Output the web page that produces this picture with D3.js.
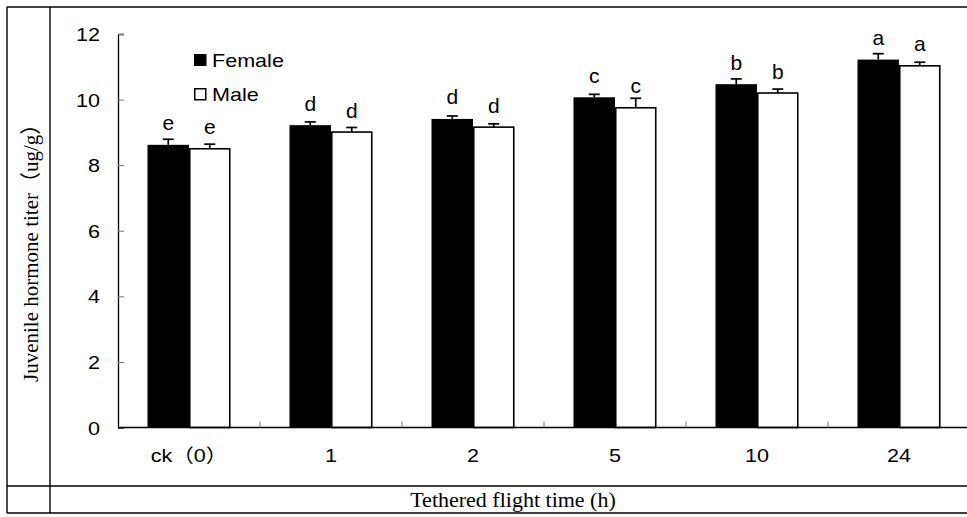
<!DOCTYPE html>
<html>
<head>
<meta charset="utf-8">
<script src="https://cdn.jsdelivr.net/npm/d3@7"></script>
<style>
  html, body { margin: 0; padding: 0; background: #fff; }
  svg { display: block; }
  .sans { font-family: "Liberation Sans", Arial, "Noto Sans CJK SC", sans-serif; fill: #000; }
  .serif { font-family: "Liberation Serif", "Times New Roman", "Noto Sans CJK SC", serif; fill: #000; }
</style>
</head>
<body>
<script>
// Tethered flight time groups
const categories = ["ck（0）", "1", "2", "5", "10", "24"];
const seriesNames = ["Female", "Male"];

// Juvenile hormone titer (ug/g), mean and error
const femaleValues = [8.62, 9.22, 9.41, 10.07, 10.47, 11.22];
const femaleErrors = [0.17, 0.10, 0.09, 0.09, 0.16, 0.18];
const maleValues   = [8.50, 9.01, 9.16, 9.75, 10.20, 11.03];
const maleErrors   = [0.14, 0.14, 0.10, 0.29, 0.12, 0.11];

// Significance letters
const femaleLetters = ["e", "d", "d", "c", "b", "a"];
const maleLetters   = ["e", "d", "d", "c", "b", "a"];

const yTicks = [0, 2, 4, 6, 8, 10, 12];

const W = 967, H = 517;
const svg = d3.select("body").append("svg").attr("width", W).attr("height", H);

// Table frame around the figure
const frame = svg.append("g").attr("stroke", "#000").attr("stroke-width", 1.4);
[[7, 7, 967, 7], [7, 486, 967, 486], [7, 513, 967, 513], [7, 7, 7, 513], [50, 7, 50, 513]]
  .forEach(([x1, y1, x2, y2]) => frame.append("line")
    .attr("x1", x1).attr("y1", y1).attr("x2", x2).attr("y2", y2));

const x = d3.scaleBand().domain(categories).range([118, 970]);
const xs = d3.scaleBand().domain(seriesNames).range([-41.5, 41.5]);
const y = d3.scaleLinear().domain([0, 12]).range([427.5, 34]);

const SX = 1.16; // horizontal stretch of sans labels

function stext(parent, px, py, str, size, anchor, sx) {
  return parent.append("text").attr("class", "sans")
    .attr("transform", `translate(${px},${py}) scale(${sx == null ? SX : sx},1)`)
    .attr("text-anchor", anchor)
    .style("font-size", size + "px")
    .text(str);
}

// Y axis with inward ticks
const yAxis = d3.axisLeft(y).tickValues(yTicks).tickSize(-6).tickFormat("");
const gy = svg.append("g").attr("transform", "translate(118,0)").call(yAxis);
gy.select(".domain").attr("stroke", "#000").attr("stroke-width", 1.3);
gy.selectAll(".tick line").attr("stroke", "#777").attr("stroke-width", 1);
yTicks.forEach(t => stext(svg, 100, y(t) + 7, String(t), 18.6, "end"));

// Bars
const data = categories.map((c, i) => ({
  cat: c,
  items: [
    { s: "Female", v: femaleValues[i], e: femaleErrors[i], l: femaleLetters[i] },
    { s: "Male", v: maleValues[i], e: maleErrors[i], l: maleLetters[i] }
  ]
}));

const groups = svg.append("g").selectAll("g").data(data).join("g")
  .attr("transform", d => `translate(${x(d.cat) + x.bandwidth() / 2},0)`);

const items = groups.selectAll("g").data(d => d.items).join("g");

items.append("rect")
  .attr("x", d => xs(d.s) + (d.s === "Male" ? 0.75 : 0))
  .attr("width", d => xs.bandwidth() - (d.s === "Male" ? 1.5 : 0))
  .attr("y", d => y(d.v))
  .attr("height", d => y(0) - y(d.v))
  .attr("fill", d => d.s === "Female" ? "#000" : "#fff")
  .attr("stroke", "#000")
  .attr("stroke-width", d => d.s === "Male" ? 1.6 : 0);

// Error bars (upper half)
items.append("line")
  .attr("x1", d => xs(d.s) + xs.bandwidth() / 2)
  .attr("x2", d => xs(d.s) + xs.bandwidth() / 2)
  .attr("y1", d => y(d.v))
  .attr("y2", d => y(d.v + d.e))
  .attr("stroke", "#000").attr("stroke-width", 1.7);
items.append("line")
  .attr("x1", d => xs(d.s) + xs.bandwidth() / 2 - 5.5)
  .attr("x2", d => xs(d.s) + xs.bandwidth() / 2 + 5.5)
  .attr("y1", d => y(d.v + d.e))
  .attr("y2", d => y(d.v + d.e))
  .attr("stroke", "#000").attr("stroke-width", 1.7);

// Significance letters
items.each(function (d) {
  stext(d3.select(this), xs(d.s) + xs.bandwidth() / 2, y(d.v) - 14.5, d.l, 21, "middle", 1);
});

// X axis with category separator ticks
svg.append("line").attr("x1", 118).attr("x2", 967)
  .attr("y1", y(0)).attr("y2", y(0))
  .attr("stroke", "#000").attr("stroke-width", 1.3);
svg.append("g").selectAll("line").data(categories.slice(1)).join("line")
  .attr("x1", d => x(d)).attr("x2", d => x(d))
  .attr("y1", y(0)).attr("y2", y(0) - 6)
  .attr("stroke", "#777").attr("stroke-width", 1);
categories.forEach(c => stext(svg, x(c) + x.bandwidth() / 2, 462, c, 18.6, "middle"));

// Legend
const legend = svg.append("g");
seriesNames.forEach((s, i) => {
  legend.append("rect")
    .attr("x", i === 0 ? 194 : 194.75).attr("y", 54 + i * 34 + (i === 0 ? 0 : 0.75))
    .attr("width", i === 0 ? 12.5 : 11).attr("height", i === 0 ? 12 : 11)
    .attr("fill", i === 0 ? "#000" : "#fff")
    .attr("stroke", "#000").attr("stroke-width", i === 0 ? 0 : 1.5);
  stext(legend, 212, 66.7 + i * 34.5, s, 18.6, "start");
});

// Axis titles
svg.append("text").attr("class", "serif")
  .attr("transform", "translate(38,382) rotate(-90)")
  .attr("text-anchor", "start")
  .style("font-size", "21px")
  .text("Juvenile hormone titer（ug/g）");

svg.append("text").attr("class", "serif")
  .attr("x", 513).attr("y", 507)
  .attr("text-anchor", "middle")
  .style("font-size", "22px")
  .text("Tethered flight time (h)");
</script>
</body>
</html>
